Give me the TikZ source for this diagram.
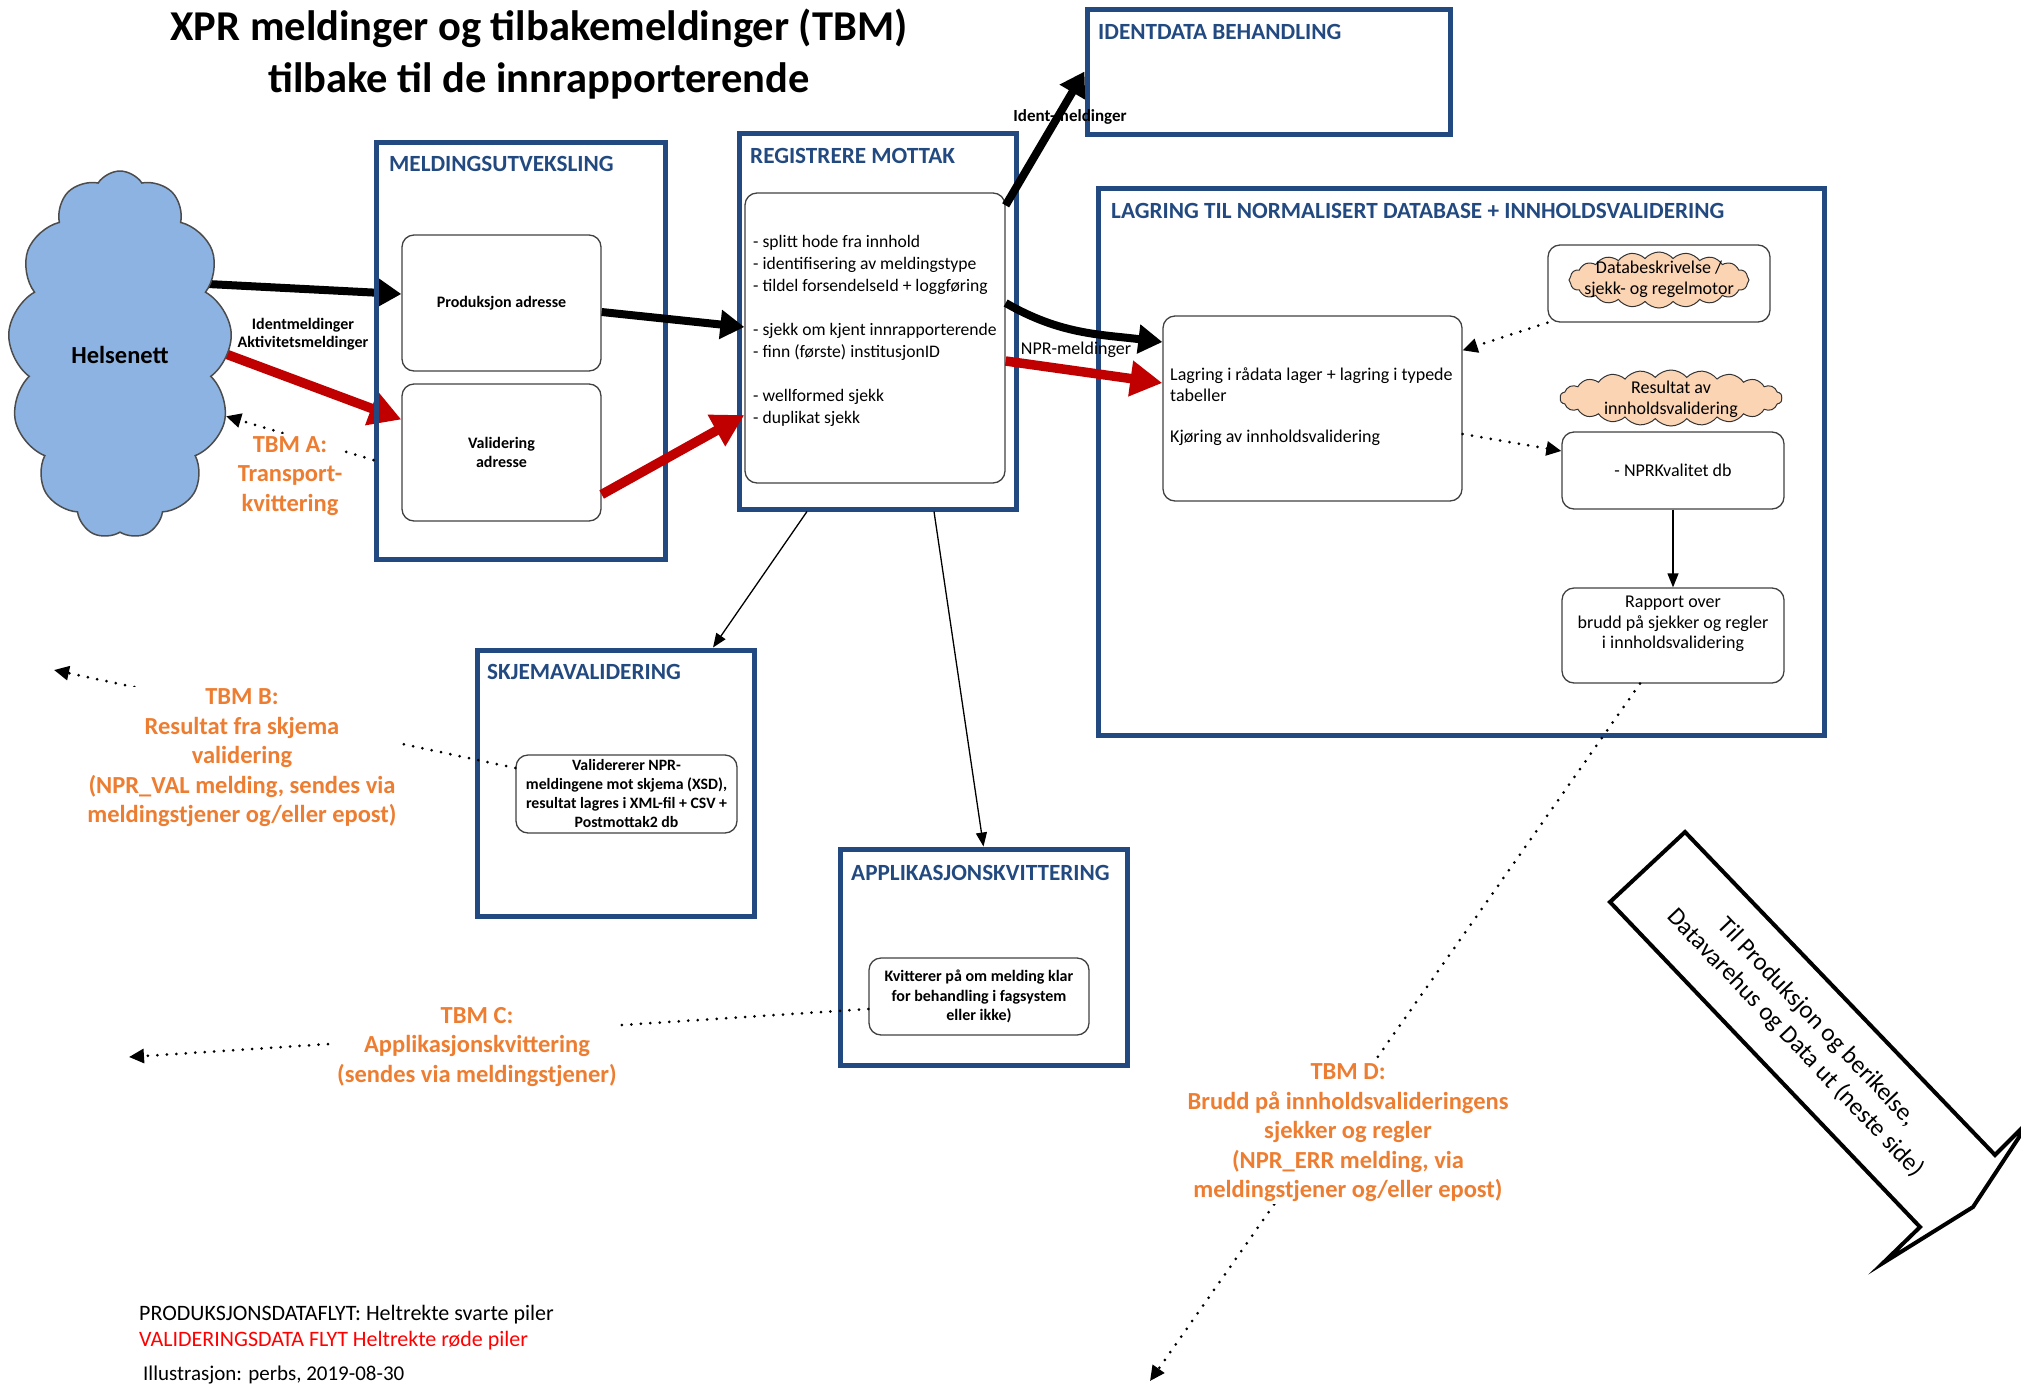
\documentclass[tikz,border=0pt]{standalone}
\usepackage{fontspec}
\setmainfont{Carlito}
\usetikzlibrary{arrows.meta,shapes.symbols,calc,backgrounds}
\definecolor{boxblue}{RGB}{35,74,128}
\definecolor{cloudblue}{RGB}{141,179,226}
\definecolor{peach}{RGB}{251,212,180}
\definecolor{arrred}{RGB}{192,0,0}
\definecolor{tbmorange}{RGB}{237,125,49}
\definecolor{legred}{RGB}{255,0,0}
\newcommand{\fsz}[2]{\fontsize{#1}{#2}\selectfont}
\begin{document}
\begin{tikzpicture}[x=1pt,y=-1pt,
  container/.style={draw=boxblue,line width=5pt,inner sep=0pt},
  ctitle/.style={anchor=west,text=boxblue,font=\bfseries\fsz{23.2}{27},inner sep=0pt},
  inbox/.style={draw=black!75,line width=1.3pt,rounded corners=12pt,inner sep=0pt},
  blackflow/.style={line width=8pt,-{Triangle[length=24pt,width=28pt]}},
  redflow/.style={draw=arrred,line width=9.5pt,-{Triangle[length=32pt,width=34pt]}},
  thinarrow/.style={line width=1.3pt,-{Triangle[length=14pt,width=11pt]}},
  dotarrow/.style={line width=3pt,line cap=round,dash pattern=on 0pt off 9.5pt,-{Triangle[length=15pt,width=14pt]}},
  tbm/.style={text=tbmorange,font=\bfseries\fsz{24.5}{29.5},align=center,fill=white,inner sep=2pt},
  puffcloud/.style={cloud,cloud ignores aspect,fill=peach,draw=black!80,line width=1pt,inner sep=0pt}
]
\useasboundingbox (0,0) rectangle (2021,1384);
\clip (0,0) rectangle (2021,1384);

% title
\node[font=\bfseries\fsz{42.5}{52},align=center] (title) at (539,54) {XPR meldinger og tilbakemeldinger (TBM)\\tilbake til de innrapporterende};

% cloud
\node[cloud,cloud puffs=13,cloud puff arc=115,cloud ignores aspect,fill=cloudblue,draw=black!70,line width=1.5pt,minimum width=224pt,minimum height=368pt,font=\bfseries\fsz{24.5}{28}] (helse) at (120,355) {Helsenett};

% containers
\node[container,minimum width=289pt,minimum height=417pt] (mu) at (520.5,350.5) {};
\node[ctitle] (mut) at (389,164) {MELDINGSUTVEKSLING};
\node[container,minimum width=277pt,minimum height=376pt] (rm) at (877.5,321) {};
\node[ctitle] (rmt) at (750,156) {REGISTRERE MOTTAK};
\node[container,minimum width=363pt,minimum height=125pt] (idb) at (1268.5,71.5) {};
\node[ctitle] (idbt) at (1098,32) {IDENTDATA BEHANDLING};
\node[container,minimum width=726pt,minimum height=547pt] (lag) at (1461,461.5) {};
\node[ctitle] (lagt) at (1111,211) {LAGRING TIL NORMALISERT DATABASE + INNHOLDSVALIDERING};
\node[container,minimum width=277pt,minimum height=266pt] (sk) at (615.5,783) {};
\node[ctitle] (skt) at (487,672) {SKJEMAVALIDERING};
\node[container,minimum width=287pt,minimum height=216pt] (ak) at (983.5,957) {};
\node[ctitle] (akt) at (851,873) {APPLIKASJONSKVITTERING};

% inner boxes
\node[inbox,minimum width=199pt,minimum height=136pt,font=\bfseries\fsz{16}{18}] (prod) at (501.5,303) {Produksjon adresse};
\node[inbox,minimum width=199pt,minimum height=137pt,font=\bfseries\fsz{16}{18.5},align=center] (val) at (501.5,452.5) {Validering\\adresse};
\node[inbox,minimum width=260pt,minimum height=290pt] (rmi) at (875,338) {};
\node[anchor=north west,align=left,font=\fsz{17.6}{22},inner sep=0pt] (rmtext) at (753,235) {- splitt hode fra innhold\\- identifisering av meldingstype\\- tildel forsendelseId + loggføring\\[22pt]- sjekk om kjent innrapporterende\\- finn (første) institusjonID\\[22pt]- wellformed sjekk\\- duplikat sjekk};

\node[inbox,minimum width=299pt,minimum height=185pt] (lagi) at (1312.5,408.5) {};
\node[anchor=north west,align=left,font=\fsz{18}{20.5},inner sep=0pt] (lagtext) at (1170,368) {Lagring i rådata lager + lagring i typede\\tabeller\\[21pt]Kjøring av innholdsvalidering};

\node[inbox,minimum width=222pt,minimum height=77pt] (db) at (1659,283.5) {};
\node[puffcloud,cloud puffs=20,cloud puff arc=100,minimum width=180pt,minimum height=56pt] (dbc) at (1659,280) {};
\node[align=center,font=\fsz{18}{21},inner sep=0pt] (dbtext) at (1659,279) {Databeskrivelse /\\sjekk- og regelmotor};
\node[puffcloud,cloud puffs=22,cloud puff arc=100,minimum width=222pt,minimum height=56pt] (resc) at (1671,398) {};
\node[align=center,font=\fsz{18}{21},inner sep=0pt] (restext) at (1671,399) {Resultat av\\innholdsvalidering};
\node[inbox,minimum width=222pt,minimum height=77pt,font=\fsz{18}{20}] (nprk) at (1673,470.5) {- NPRKvalitet db};
\node[inbox,minimum width=222pt,minimum height=95pt] (rap) at (1673,635.5) {};
\node[align=center,font=\fsz{18}{20.5},inner sep=0pt] (raptext) at (1673,624) {Rapport over\\brudd på sjekker og regler\\i innholdsvalidering};

\node[inbox,minimum width=221pt,minimum height=78pt,font=\bfseries\fsz{15.8}{19},align=center] (ski) at (626.5,794) {Validererer NPR-\\meldingene mot skjema (XSD),\\resultat lagres i XML-fil + CSV +\\Postmottak2 db};
\node[inbox,minimum width=220pt,minimum height=77pt,font=\bfseries\fsz{16}{19.5},align=center] (aki) at (979,996.5) {Kvitterer på om melding klar\\for behandling i fagsystem\\eller ikke)};

% free ends
\coordinate (tbmBend) at (54,670);
\coordinate (tbmCend) at (129,1057);
\coordinate (tbmDend) at (1150,1381);

% dotted feedback arrows
\draw[dotarrow] ([yshift=-109.5pt]mu.west) -- (helse.-30);
\draw[dotarrow] ([yshift=26pt]ski.west) -- (tbmBend);
\draw[dotarrow] ([yshift=-12.5pt]aki.west) -- (tbmCend);
\draw[dotarrow] ([xshift=-33pt]rap.south) -- (tbmDend);
\draw[dotarrow] (db.south west) -- ([yshift=-35pt]lagi.north east);
\draw[dotarrow] ([yshift=-25.5pt]lagi.east) -- ([yshift=19.5pt]nprk.west);
\draw[thinarrow] (nprk.south) -- (rap.north);

% TBM labels
\node[tbm] (tbma) at (290,476) {TBM A:\\Transport-\\kvittering};
\node[tbm] (tbmb) at (242,758) {TBM B:\\Resultat fra skjema\\validering\\(NPR\_VAL melding, sendes via\\meldingstjener og/eller epost)};
\node[tbm] (tbmc) at (477,1047) {TBM C:\\Applikasjonskvittering\\(sendes via meldingstjener)};
\node[tbm] (tbmd) at (1348,1133) {TBM D:\\Brudd på innholdsvalideringens\\sjekker og regler\\(NPR\_ERR melding, via\\meldingstjener og/eller epost)};

% thin arrows from registrere mottak
\draw[thinarrow] ([xshift=-70.5pt]rm.south) -- ([xshift=97.5pt]sk.north);
\draw[thinarrow] ([xshift=56.5pt]rm.south) -- (ak.north);

% labels
\node[font=\bfseries\fsz{16}{18},align=center] (lblin) at (303,334.5) {Identmeldinger\\Aktivitetsmeldinger};
\node[font=\bfseries\fsz{17}{19}] (lblident) at (1070,117) {Ident-meldinger};
\node[font=\fsz{18}{20}] (lblnpr) at (1076,350) {NPR-meldinger};

% main flow arrows (the two leaving the cloud start under it)
\begin{pgfonlayer}{background}
\draw[blackflow] ([xshift=-40pt,yshift=72pt]helse.east) -- ([yshift=9pt]prod.west);
\draw[redflow] ([xshift=-40pt,yshift=15pt]helse.east) -- ([yshift=33pt]val.west);
\end{pgfonlayer}
\draw[blackflow] ([yshift=-9pt]prod.east) -- ([yshift=11pt]rmi.west);
\draw[redflow] ([yshift=-42pt]val.east) -- ([yshift=-77pt]rmi.west);
\draw[blackflow] ([yshift=-13pt]rmi.north east) -- (idb.west);
\draw[blackflow] ([yshift=35pt]rmi.east) to[out=-30,in=173] ([yshift=66.5pt]lagi.west);
\draw[redflow] ([yshift=-23pt]rmi.east) -- ([yshift=25.5pt]lagi.west);

% big outgoing arrow
\draw[line width=4pt,line join=miter,fill=white] (1685,832) -- (1610,902) -- (1920,1227) -- (1883,1263) -- (1973,1207) -- (2031,1119) -- (1995,1155) -- cycle;
\node[rotate=-46.4,align=center,font=\fsz{25}{30}] (bigtext) at (1806,1033) {Til Produksjon og berikelse,\\Datavarehus og Data ut (neste side)};

% legend
\node[anchor=west,font=\fsz{22}{24},inner sep=0pt] (leg1) at (139,1315) {PRODUKSJONSDATAFLYT: Heltrekte svarte piler};
\node[anchor=west,font=\fsz{22}{24},inner sep=0pt,text=legred] (leg2) at (139,1341) {VALIDERINGSDATA FLYT Heltrekte røde piler};
\node[anchor=west,font=\fsz{21}{24},inner sep=0pt] (leg3) at (143,1375) {Illustrasjon: perbs, 2019-08-30};
\end{tikzpicture}
\end{document}
